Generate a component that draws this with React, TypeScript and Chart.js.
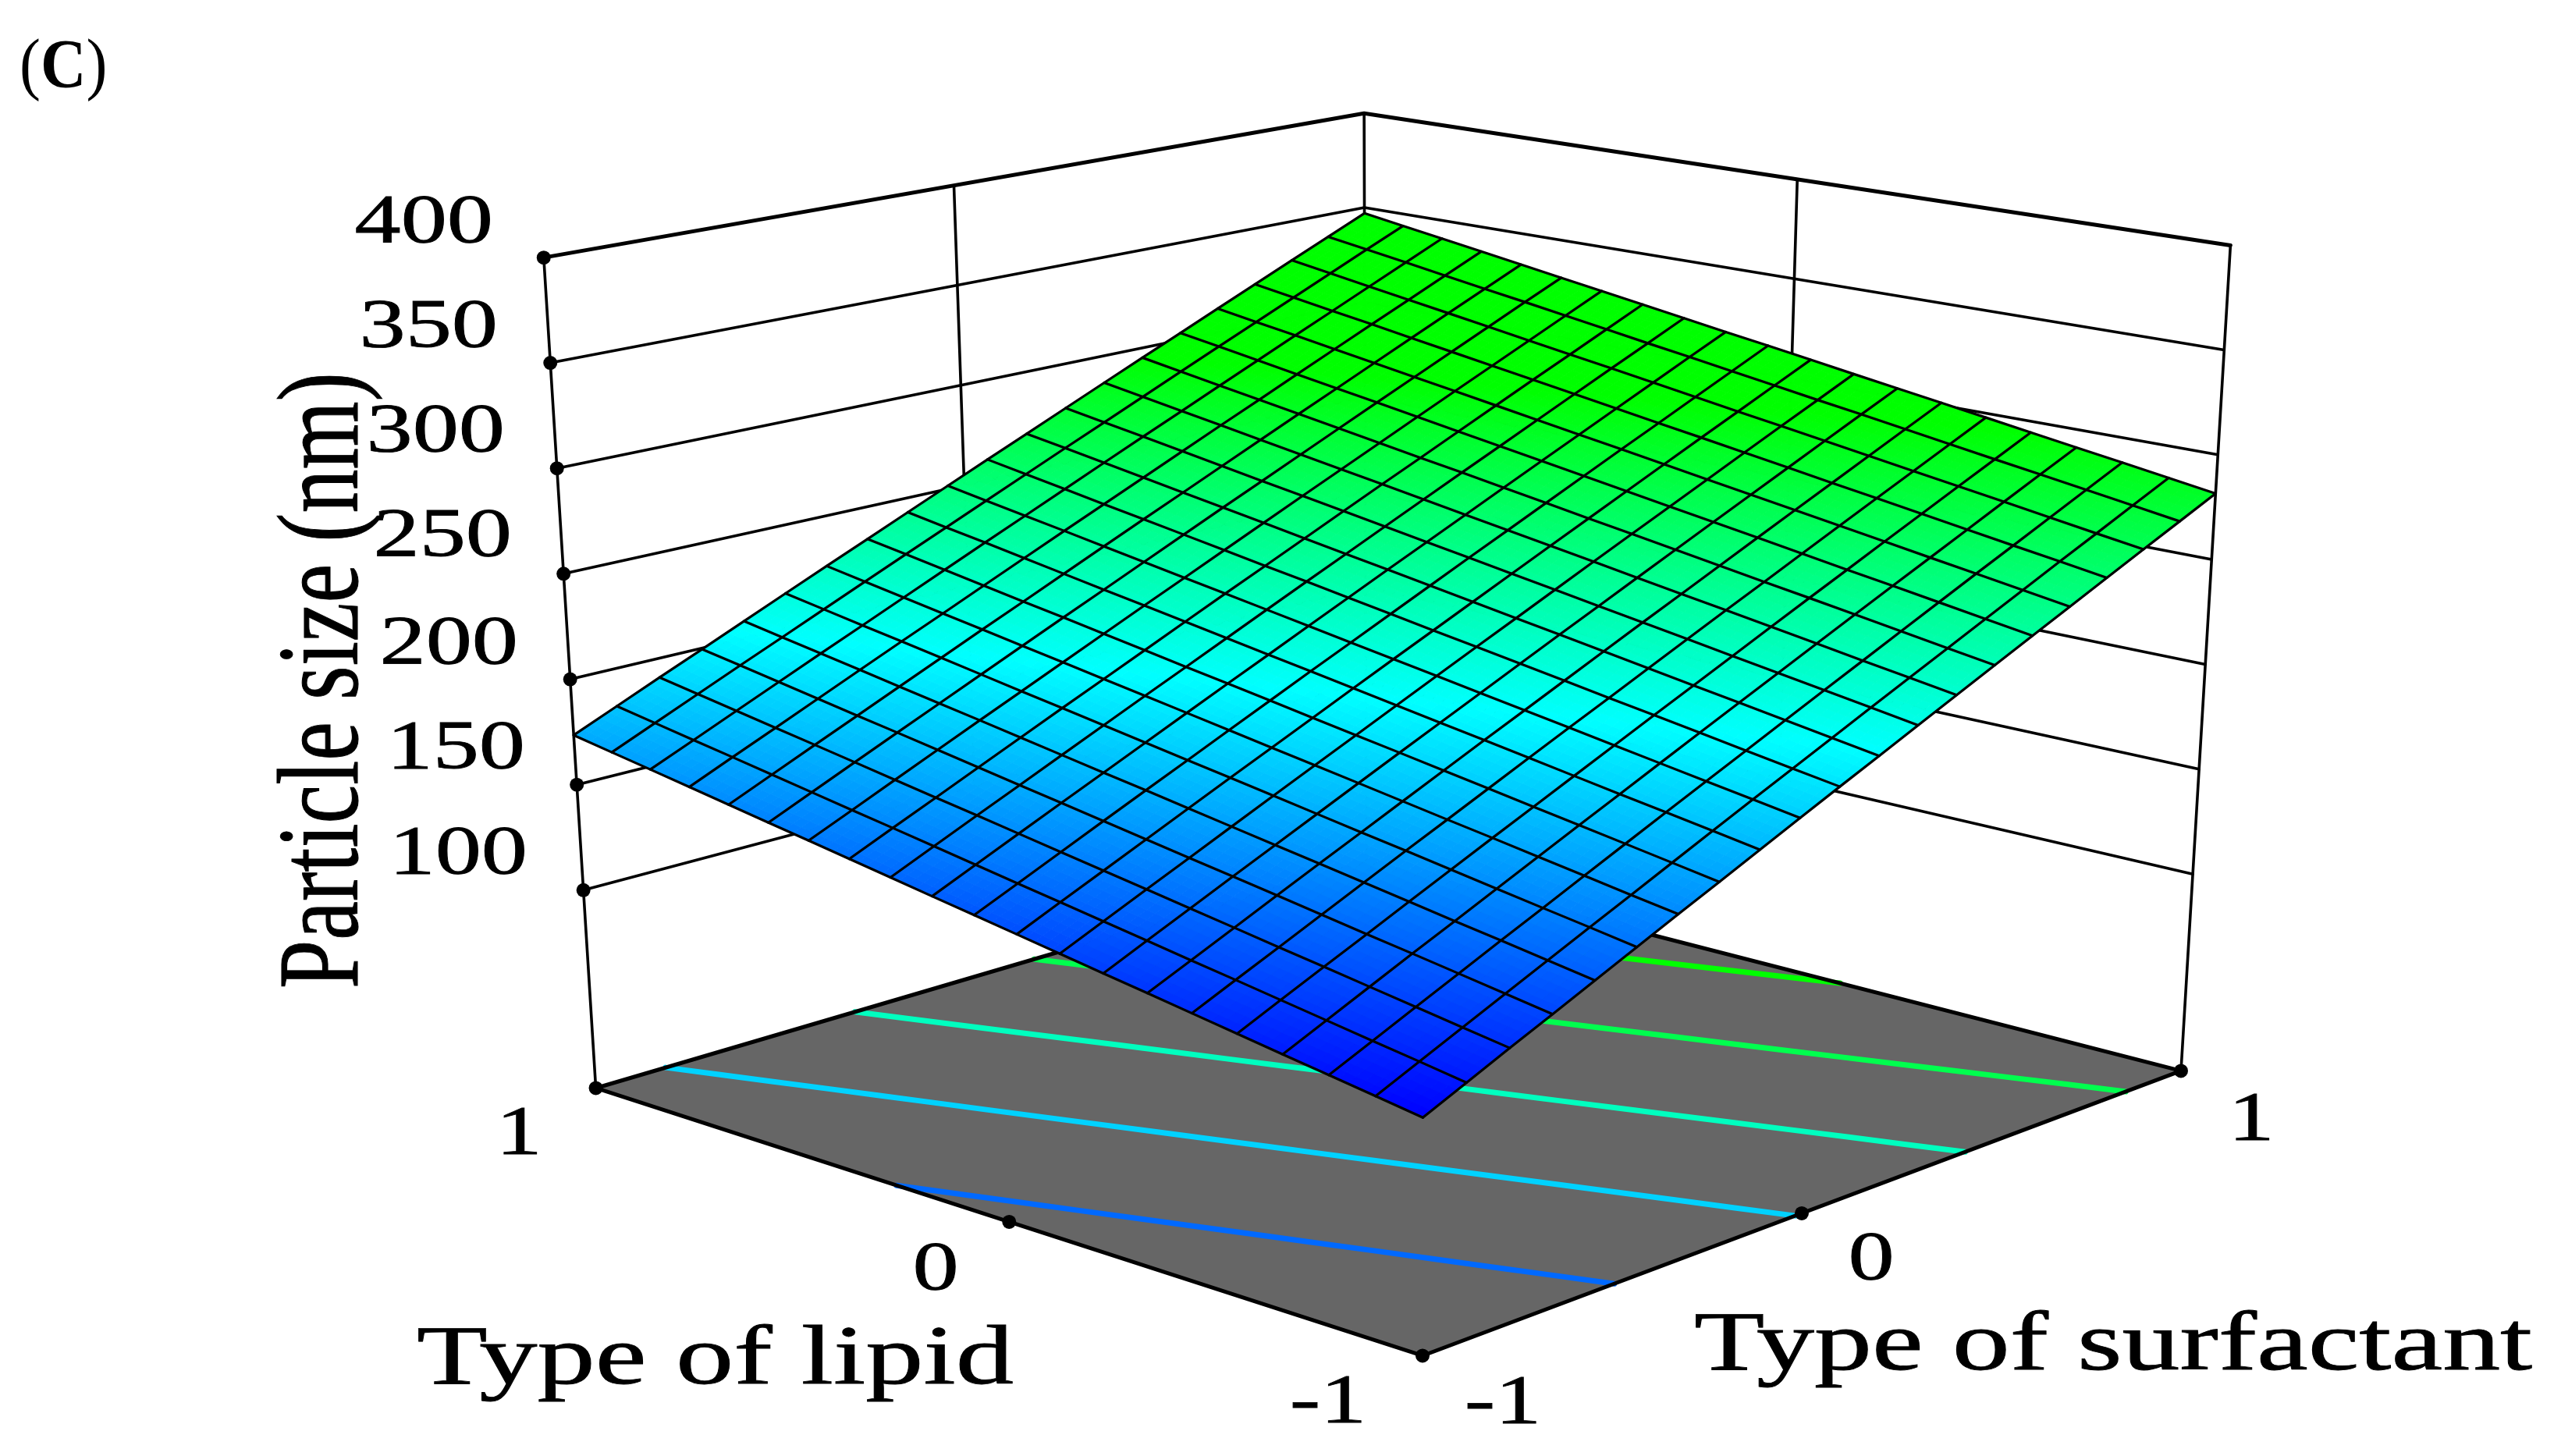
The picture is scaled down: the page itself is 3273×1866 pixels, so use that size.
import React, { useEffect, useRef } from "react";
import { Chart, registerables } from "chart.js";

Chart.register(...registerables);

// ---------- data ----------
const lipidLevels = [-1, -0.9, -0.8, -0.7, -0.6, -0.5, -0.4, -0.3, -0.2, -0.1, 0, 0.1, 0.2, 0.3, 0.4, 0.5, 0.6, 0.7, 0.8, 0.9, 1];
const surfactantLevels = [-1, -0.9, -0.8, -0.7, -0.6, -0.5, -0.4, -0.3, -0.2, -0.1, 0, 0.1, 0.2, 0.3, 0.4, 0.5, 0.6, 0.7, 0.8, 0.9, 1];
// particle size (nm): one row per lipid level, one column per surfactant level
const particleSize = [
  [108.0,116.7,125.4,134.0,142.7,151.4,160.1,168.7,177.4,186.1,194.8,203.4,212.1,220.8,229.5,238.1,246.8,255.5,264.2,272.8,281.5],
  [111.3,120.0,128.6,137.3,146.0,154.7,163.3,172.0,180.7,189.4,198.0,206.7,215.4,224.1,232.7,241.4,250.1,258.8,267.4,276.1,284.8],
  [114.6,123.2,131.9,140.6,149.3,157.9,166.6,175.3,184.0,192.6,201.3,210.0,218.7,227.3,236.0,244.7,253.4,262.0,270.7,279.4,288.1],
  [117.8,126.5,135.2,143.9,152.5,161.2,169.9,178.6,187.2,195.9,204.6,213.3,221.9,230.6,239.3,248.0,256.6,265.3,274.0,282.7,291.3],
  [121.1,129.8,138.5,147.1,155.8,164.5,173.2,181.8,190.5,199.2,207.9,216.5,225.2,233.9,242.6,251.2,259.9,268.6,277.3,285.9,294.6],
  [124.4,133.1,141.7,150.4,159.1,167.8,176.4,185.1,193.8,202.5,211.1,219.8,228.5,237.2,245.8,254.5,263.2,271.9,280.5,289.2,297.9],
  [127.7,136.3,145.0,153.7,162.4,171.0,179.7,188.4,197.1,205.7,214.4,223.1,231.8,240.4,249.1,257.8,266.5,275.1,283.8,292.5,301.2],
  [130.9,139.6,148.3,157.0,165.6,174.3,183.0,191.7,200.3,209.0,217.7,226.4,235.0,243.7,252.4,261.1,269.7,278.4,287.1,295.8,304.4],
  [134.2,142.9,151.6,160.2,168.9,177.6,186.3,194.9,203.6,212.3,221.0,229.6,238.3,247.0,255.7,264.3,273.0,281.7,290.4,299.0,307.7],
  [137.5,146.2,154.8,163.5,172.2,180.9,189.5,198.2,206.9,215.6,224.2,232.9,241.6,250.3,258.9,267.6,276.3,285.0,293.6,302.3,311.0],
  [140.8,149.4,158.1,166.8,175.5,184.1,192.8,201.5,210.2,218.8,227.5,236.2,244.9,253.5,262.2,270.9,279.6,288.2,296.9,305.6,314.3],
  [144.0,152.7,161.4,170.1,178.7,187.4,196.1,204.8,213.4,222.1,230.8,239.5,248.1,256.8,265.5,274.2,282.8,291.5,300.2,308.9,317.5],
  [147.3,156.0,164.7,173.3,182.0,190.7,199.4,208.0,216.7,225.4,234.1,242.7,251.4,260.1,268.8,277.4,286.1,294.8,303.5,312.1,320.8],
  [150.6,159.3,167.9,176.6,185.3,194.0,202.6,211.3,220.0,228.7,237.3,246.0,254.7,263.4,272.0,280.7,289.4,298.1,306.7,315.4,324.1],
  [153.9,162.5,171.2,179.9,188.6,197.2,205.9,214.6,223.3,231.9,240.6,249.3,258.0,266.6,275.3,284.0,292.7,301.3,310.0,318.7,327.4],
  [157.1,165.8,174.5,183.2,191.8,200.5,209.2,217.9,226.5,235.2,243.9,252.6,261.2,269.9,278.6,287.3,295.9,304.6,313.3,322.0,330.6],
  [160.4,169.1,177.8,186.4,195.1,203.8,212.5,221.1,229.8,238.5,247.2,255.8,264.5,273.2,281.9,290.5,299.2,307.9,316.6,325.2,333.9],
  [163.7,172.4,181.0,189.7,198.4,207.1,215.7,224.4,233.1,241.8,250.4,259.1,267.8,276.5,285.1,293.8,302.5,311.2,319.8,328.5,337.2],
  [167.0,175.6,184.3,193.0,201.7,210.3,219.0,227.7,236.4,245.0,253.7,262.4,271.1,279.7,288.4,297.1,305.8,314.4,323.1,331.8,340.5],
  [170.2,178.9,187.6,196.3,204.9,213.6,222.3,231.0,239.6,248.3,257.0,265.7,274.3,283.0,291.7,300.4,309.0,317.7,326.4,335.1,343.7],
  [173.5,182.2,190.9,199.5,208.2,216.9,225.6,234.2,242.9,251.6,260.3,268.9,277.6,286.3,295.0,303.6,312.3,321.0,329.7,338.3,347.0],
];
const sizeTicks = [100, 150, 200, 250, 300, 350, 400];
const lipidTicks = [-1, 0, 1];
const surfactantTicks = [-1, 0, 1];
const contourLevels = [147.8, 187.7, 227.5, 267.3, 307.2];
const sizeFloor = 6;
const sizeTop = 400;
const colourStops = [108, 205, 295];

// ---------- 3D view (camera fitted to the box of the picture) ----------
const CW = 3273;
const CH = 1866;
const zNorm = (size: number) => {
  const s = (size - 100) / 300;
  return 0.25 + 0.788 * s - 0.036 * s * s;
};
const project = (surf: number, lipid: number, size: number) => {
  const a = (surf + 1) / 2;
  const b = (lipid + 1) / 2;
  const c = zNorm(size);
  const w = 1 + 0.13757 * a + 0.12974 * b - 0.0681 * c;
  return {
    x: (1823 + 1356.5 * a - 960.4 * b - 122.7 * c) / w,
    y: (1737 - 176.3 * a - 162.1 * b - 1222 * c) / w,
  };
};
const lerpPt = (p: any, q: any, t: number) => ({ x: p.x + (q.x - p.x) * t, y: p.y + (q.y - p.y) * t });

const ramp = (v: number) => {
  const [lo, mid, hi] = colourStops;
  if (v <= mid) {
    const t = Math.max(0, (v - lo) / (mid - lo));
    return `rgb(0,${Math.round(255 * t)},255)`;
  }
  const t = Math.min(1, (v - mid) / (hi - mid));
  return `rgb(0,255,${Math.round(255 * (1 - t))})`;
};

// ---------- marks built from the values ----------
const line = (label: string, data: any[], color: string, width: number, order: number) => ({
  label,
  data,
  showLine: true,
  borderColor: color,
  borderWidth: width,
  pointRadius: 0,
  tension: 0,
  fill: false,
  clip: false as any,
  order,
  borderCapStyle: "round" as const,
  borderJoinStyle: "round" as const,
});

const contourPoints = (level: number) => {
  const pts: { s: number; l: number }[] = [];
  const last = surfactantLevels.length - 1;
  particleSize.forEach((row, i) => {
    for (let j = 0; j < last; j++) {
      if ((row[j] - level) * (row[j + 1] - level) <= 0) {
        const t = (level - row[j]) / (row[j + 1] - row[j]);
        pts.push({ s: surfactantLevels[j] + t * (surfactantLevels[j + 1] - surfactantLevels[j]), l: lipidLevels[i] });
        break;
      }
    }
  });
  [0, last].forEach((j) => {
    for (let i = 0; i < lipidLevels.length - 1; i++) {
      const a = particleSize[i][j];
      const b = particleSize[i + 1][j];
      if ((a - level) * (b - level) < 0) {
        const t = (level - a) / (b - a);
        pts.push({ s: surfactantLevels[j], l: lipidLevels[i] + t * (lipidLevels[i + 1] - lipidLevels[i]) });
      }
    }
  });
  pts.sort((p, q) => p.l - q.l);
  return pts.map((p) => project(p.s, p.l, sizeFloor));
};

const buildDatasets = () => {
  const ds: any[] = [];
  const sMin = surfactantTicks[0];
  const sMax = surfactantTicks[surfactantTicks.length - 1];
  const lMin = lipidTicks[0];
  const lMax = lipidTicks[lipidTicks.length - 1];
  const zLow = sizeTicks[0];

  const L = (z: number) => project(sMin, lMax, z);
  const B = (z: number) => project(sMax, lMax, z);
  const R = (z: number) => project(sMax, lMin, z);
  const F = (z: number) => project(sMin, lMin, z);

  // contours on the floor
  contourLevels.forEach((lv) => ds.push(line(`contour ${lv}`, contourPoints(lv), ramp(lv), 7, 8)));
  // floor border
  ds.push(line("floor edge", [L(sizeFloor), F(sizeFloor), R(sizeFloor), B(sizeFloor), L(sizeFloor)], "#000", 5, 7));
  // walls
  sizeTicks.forEach((z) => {
    ds.push(line(`wall ${z}`, [L(z), B(z), R(z)], "#000", z === sizeTop ? 5 : 3.6, 6));
  });
  ds.push(line("left post", [L(sizeTop), L(sizeFloor)], "#000", 3.6, 6));
  ds.push(line("back post", [B(sizeTop), B(sizeFloor)], "#000", 3.6, 6));
  ds.push(line("right post", [R(sizeTop), R(sizeFloor)], "#000", 3.6, 6));
  ds.push(line("left wall mid", [lerpPt(L(sizeTop), B(sizeTop), 0.5), lerpPt(L(zLow), B(zLow), 0.5)], "#000", 3.6, 6));
  ds.push(line("right wall mid", [lerpPt(B(sizeTop), R(sizeTop), 0.5), lerpPt(B(zLow), R(zLow), 0.5)], "#000", 3.6, 6));

  // tick dots
  ds.push({
    label: "tick dots",
    data: [
      ...sizeTicks.map((z) => L(z)),
      L(sizeFloor),
      F(sizeFloor),
      R(sizeFloor),
      lerpPt(F(sizeFloor), L(sizeFloor), 0.5),
      lerpPt(F(sizeFloor), R(sizeFloor), 0.5),
    ],
    showLine: false,
    pointRadius: 9,
    pointBackgroundColor: "#000",
    pointBorderWidth: 0,
    clip: false,
    order: 5,
  });

  // anchor for the surface fill, drawn right under the mesh
  ds.push({ label: "surface fill", data: [], showLine: false, order: 2 });

  // mesh
  particleSize.forEach((row, i) => {
    ds.push(line(`lipid ${lipidLevels[i]}`, row.map((v, j) => project(surfactantLevels[j], lipidLevels[i], v)), "#000", 3.2, 1));
  });
  surfactantLevels.forEach((s, j) => {
    ds.push(line(`surfactant ${s}`, particleSize.map((row, i) => project(s, lipidLevels[i], row[j])), "#000", 3.2, 1));
  });
  return ds;
};

// ---------- plugins ----------
const floorPlugin = {
  id: "floor",
  beforeDatasetsDraw(chart: any) {
    const { ctx, scales } = chart;
    const sMin = surfactantTicks[0];
    const sMax = surfactantTicks[surfactantTicks.length - 1];
    const lMin = lipidTicks[0];
    const lMax = lipidTicks[lipidTicks.length - 1];
    const pts = [project(sMin, lMin, sizeFloor), project(sMax, lMin, sizeFloor), project(sMax, lMax, sizeFloor), project(sMin, lMax, sizeFloor)];
    ctx.save();
    ctx.fillStyle = "#666666";
    ctx.beginPath();
    pts.forEach((p, i) => {
      const x = scales.x.getPixelForValue(p.x);
      const y = scales.y.getPixelForValue(p.y);
      if (i) ctx.lineTo(x, y);
      else ctx.moveTo(x, y);
    });
    ctx.closePath();
    ctx.fill();
    ctx.restore();
  },
};

const surfacePlugin = {
  id: "surfaceFill",
  beforeDatasetDraw(chart: any, args: any) {
    if (chart.data.datasets[args.index].label !== "surface fill") return;
    const { ctx, scales } = chart;
    const SUB = 5;
    const px = (p: any) => [scales.x.getPixelForValue(p.x), scales.y.getPixelForValue(p.y)];
    ctx.save();
    ctx.lineWidth = 1;
    for (let i = 0; i < lipidLevels.length - 1; i++) {
      for (let j = 0; j < surfactantLevels.length - 1; j++) {
        const v00 = particleSize[i][j];
        const v01 = particleSize[i][j + 1];
        const v10 = particleSize[i + 1][j];
        const v11 = particleSize[i + 1][j + 1];
        const at = (a: number, b: number) => {
          const v = v00 * (1 - a) * (1 - b) + v01 * (1 - a) * b + v10 * a * (1 - b) + v11 * a * b;
          const l = lipidLevels[i] + a * (lipidLevels[i + 1] - lipidLevels[i]);
          const s = surfactantLevels[j] + b * (surfactantLevels[j + 1] - surfactantLevels[j]);
          return { v, p: px(project(s, l, v)) };
        };
        for (let a = 0; a < SUB; a++) {
          for (let b = 0; b < SUB; b++) {
            const c = [at(a / SUB, b / SUB), at((a + 1) / SUB, b / SUB), at((a + 1) / SUB, (b + 1) / SUB), at(a / SUB, (b + 1) / SUB)];
            const col = ramp(at((a + 0.5) / SUB, (b + 0.5) / SUB).v);
            ctx.fillStyle = col;
            ctx.strokeStyle = col;
            ctx.beginPath();
            c.forEach((q, k) => (k ? ctx.lineTo(q.p[0], q.p[1]) : ctx.moveTo(q.p[0], q.p[1])));
            ctx.closePath();
            ctx.fill();
            ctx.stroke();
          }
        }
      }
    }
    ctx.restore();
  },
};

// layout of the texts
const SERIF = '"Liberation Serif"';
const sizeLabelRight = [676, 673, 664, 656, 647, 638, 632];
const sizeLabelBase = [1119, 984, 850, 712, 578, 444, 310];
const lipidLabelX = [1702, 1199, 665];
const lipidLabelBase = [1822, 1652, 1478];
const surfLabelX = [1926, 2398, 2885];
const surfLabelBase = [1823, 1639, 1460];

const stretched = (ctx: any, text: string, x: number, y: number, size: number, sx: number, align: CanvasTextAlign) => {
  ctx.save();
  ctx.translate(x, y);
  ctx.scale(sx, 1);
  ctx.font = `${size}px ${SERIF}`;
  ctx.textAlign = align;
  ctx.textBaseline = "alphabetic";
  ctx.fillStyle = "#000";
  ctx.strokeStyle = "#000";
  ctx.lineWidth = 0.8;
  ctx.fillText(text, 0, 0);
  ctx.strokeText(text, 0, 0);
  ctx.restore();
};

const textPlugin = {
  id: "texts",
  afterDatasetsDraw(chart: any) {
    const { ctx } = chart;
    sizeTicks.forEach((t, i) => stretched(ctx, String(t), sizeLabelRight[i], sizeLabelBase[i], 89, 1.33, "right"));
    lipidTicks.forEach((t, i) => stretched(ctx, String(t), lipidLabelX[i], lipidLabelBase[i], 89, 1.33, "center"));
    surfactantTicks.forEach((t, i) => stretched(ctx, String(t), surfLabelX[i], surfLabelBase[i], 89, 1.33, "center"));
    stretched(ctx, "Type of lipid", 534, 1773, 108, 1.375, "left");
    stretched(ctx, "Type of surfactant", 2171, 1755, 108, 1.37, "left");

    // rotated z title
    ctx.save();
    ctx.translate(458, 1267);
    ctx.rotate(-Math.PI / 2);
    ctx.scale(1, 1.33);
    ctx.font = `112px ${SERIF}`;
    ctx.textAlign = "left";
    ctx.textBaseline = "alphabetic";
    ctx.fillStyle = "#000";
    ctx.strokeStyle = "#000";
    ctx.lineWidth = 0.8;
    ctx.fillText("Particle size (nm)", 0, 0);
    ctx.strokeText("Particle size (nm)", 0, 0);
    ctx.restore();

    // panel letter
    ctx.save();
    ctx.translate(25, 111);
    ctx.scale(0.92, 1);
    ctx.fillStyle = "#000";
    ctx.textBaseline = "alphabetic";
    ctx.textAlign = "left";
    ctx.font = `88px ${SERIF}`;
    ctx.fillText("(", 0, 0);
    const w1 = ctx.measureText("(").width;
    ctx.font = `bold 88px ${SERIF}`;
    ctx.fillText("C", w1, 0);
    const w2 = ctx.measureText("C").width;
    ctx.font = `88px ${SERIF}`;
    ctx.fillText(")", w1 + w2, 0);
    ctx.restore();
  },
};

export default function App() {
  const ref = useRef<HTMLCanvasElement>(null);
  useEffect(() => {
    document.body.style.margin = "0";
    const chart = new Chart(ref.current as HTMLCanvasElement, {
      type: "scatter",
      data: { datasets: buildDatasets() },
      options: {
        animation: false,
        responsive: false,
        events: [],
        layout: { padding: 0, autoPadding: false },
        plugins: { legend: { display: false }, tooltip: { enabled: false }, title: { display: false } },
        scales: {
          x: { type: "linear", min: 0, max: CW, display: false },
          y: { type: "linear", min: 0, max: CH, reverse: true, display: false },
        },
      },
      plugins: [floorPlugin, surfacePlugin, textPlugin],
    });
    return () => chart.destroy();
  }, []);
  return <canvas ref={ref} width={CW} height={CH} style={{ display: "block", width: CW, height: CH }} />;
}
